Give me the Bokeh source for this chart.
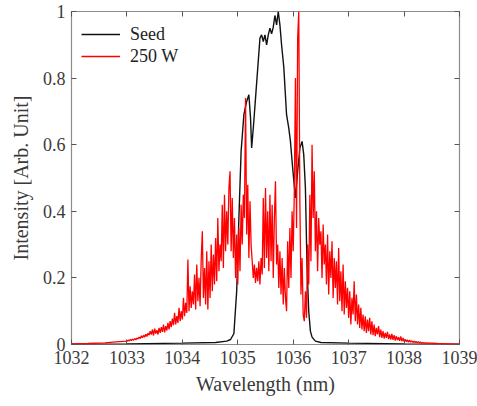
from bokeh.plotting import figure
from bokeh.models import Range1d, LinearAxis, FixedTicker, Legend, LegendItem
from bokeh.embed import file_html
from bokeh.resources import INLINE

# ---- data ----
seed_x = [1032.0, 1033.0, 1034.0, 1034.6, 1034.8, 1034.87, 1034.93, 1034.98, 1035.02, 1035.06,
          1035.11, 1035.16, 1035.20, 1035.23, 1035.25, 1035.28, 1035.32, 1035.36, 1035.40, 1035.43,
          1035.46, 1035.49, 1035.52, 1035.55, 1035.58, 1035.61, 1035.64, 1035.67, 1035.70, 1035.73,
          1035.76, 1035.79, 1035.83, 1035.88, 1035.92, 1035.95, 1035.99, 1036.04, 1036.08, 1036.12,
          1036.16, 1036.19, 1036.22, 1036.25, 1036.28, 1036.31, 1036.34, 1036.40, 1036.50, 1037.0,
          1038.0, 1039.0]
seed_y = [0.001, 0.002, 0.004, 0.006, 0.010, 0.015, 0.033, 0.160, 0.380, 0.580,
          0.690, 0.730, 0.750, 0.680, 0.590, 0.650, 0.740, 0.830, 0.920, 0.930,
          0.910, 0.930, 0.900, 0.930, 0.950, 0.933, 0.953, 0.988, 0.960, 1.000,
          0.960, 0.900, 0.833, 0.690, 0.650, 0.610, 0.530, 0.440, 0.520, 0.590,
          0.610, 0.570, 0.470, 0.230, 0.100, 0.040, 0.022, 0.010, 0.006, 0.004,
          0.002, 0.001]

# 250 W spectrum: head, dense part sampled every 0.02 nm from 1033.00, tail
amp_head_x = [1032.0, 1032.3, 1032.6, 1032.8]
amp_head_y = [0.002, 0.003, 0.005, 0.008]
amp_start = 1033.0
amp_step = 0.02
amp_y = [
    0.010, 0.013, 0.011, 0.015, 0.012, 0.016, 0.013, 0.018, 0.014, 0.019,  # 1033.0
    0.017, 0.022, 0.018, 0.026, 0.020, 0.028, 0.022, 0.031, 0.024, 0.034,  # 1033.2
    0.028, 0.040, 0.030, 0.045, 0.027, 0.048, 0.033, 0.043, 0.030, 0.050,  # 1033.4
    0.035, 0.052, 0.038, 0.060, 0.036, 0.055, 0.042, 0.065, 0.045, 0.070,  # 1033.6
    0.052, 0.078, 0.058, 0.095, 0.060, 0.085, 0.065, 0.110, 0.070, 0.100,  # 1033.8
    0.075, 0.140, 0.085, 0.125, 0.095, 0.255, 0.100, 0.175, 0.110, 0.160,  # 1034.0
    0.120, 0.210, 0.105, 0.240, 0.130, 0.200, 0.115, 0.255, 0.340, 0.140,  # 1034.2
    0.230, 0.120, 0.280, 0.105, 0.250, 0.140, 0.300, 0.160, 0.270, 0.180,  # 1034.4
    0.320, 0.190, 0.380, 0.220, 0.300, 0.250, 0.420, 0.230, 0.450, 0.280,  # 1034.6
    0.400, 0.300, 0.470, 0.520, 0.280, 0.440, 0.260, 0.380, 0.200, 0.330,  # 1034.8
    0.180, 0.350, 0.220, 0.420, 0.300, 0.450, 0.380, 0.740, 0.330, 0.480,  # 1035.0
    0.260, 0.430, 0.300, 0.250, 0.200, 0.240, 0.185, 0.230, 0.190, 0.250,  # 1035.2
    0.180, 0.260, 0.210, 0.440, 0.230, 0.470, 0.260, 0.400, 0.220, 0.450,  # 1035.4
    0.250, 0.420, 0.200, 0.380, 0.490, 0.240, 0.300, 0.170, 0.280, 0.150,  # 1035.6
    0.260, 0.120, 0.230, 0.140, 0.100, 0.310, 0.170, 0.350, 0.200, 0.400,  # 1035.8
    0.280, 0.460, 0.800, 0.350, 0.920, 1.000, 0.430, 0.150, 0.260, 0.090,  # 1036.0
    0.070, 0.160, 0.080, 0.300, 0.180, 0.450, 0.250, 0.600, 0.380, 0.520,  # 1036.2
    0.280, 0.400, 0.220, 0.380, 0.300, 0.340, 0.200, 0.360, 0.240, 0.300,  # 1036.4
    0.180, 0.330, 0.150, 0.280, 0.200, 0.310, 0.140, 0.260, 0.170, 0.250,  # 1036.6
    0.120, 0.290, 0.130, 0.220, 0.100, 0.240, 0.090, 0.190, 0.110, 0.170,  # 1036.8
    0.080, 0.160, 0.060, 0.140, 0.090, 0.190, 0.070, 0.150, 0.060, 0.120,  # 1037.0
    0.050, 0.110, 0.045, 0.090, 0.040, 0.085, 0.035, 0.075, 0.040, 0.080,  # 1037.2
    0.030, 0.070, 0.028, 0.060, 0.025, 0.050, 0.030, 0.055, 0.022, 0.045,  # 1037.4
    0.020, 0.040, 0.018, 0.035, 0.020, 0.038, 0.016, 0.030, 0.015, 0.032,  # 1037.6
    0.014, 0.028, 0.012, 0.025, 0.013, 0.022, 0.011, 0.024, 0.010, 0.020,  # 1037.8
    0.009, 0.016, 0.008, 0.014, 0.007, 0.013, 0.007, 0.011, 0.006, 0.010,  # 1038.0
    0.006, 0.009, 0.005, 0.008, 0.005, 0.007, 0.004, 0.006, 0.004, 0.005,  # 1038.2
]
amp_tail_x = [1038.6, 1038.8, 1039.0]
amp_tail_y = [0.003, 0.002, 0.001]

x_ticks = [1032, 1033, 1034, 1035, 1036, 1037, 1038, 1039]
y_ticks = [0, 0.2, 0.4, 0.6, 0.8, 1.0]
y_tick_labels = {0: "0", 0.2: "0.2", 0.4: "0.4", 0.6: "0.6", 0.8: "0.8", 1: "1"}

amp_x = amp_head_x + [round(amp_start + amp_step * i, 3) for i in range(len(amp_y))] + amp_tail_x
amp_all_y = amp_head_y + amp_y + amp_tail_y

FONT = "'Liberation Serif', 'Times New Roman', serif"
TXT = "#3a3a3a"
FRAME = "#8c8c8c"

p = figure(width=477, height=406, output_backend="svg", toolbar_location=None,
           x_range=Range1d(1032, 1039), y_range=Range1d(0, 1),
           min_border_left=71, min_border_right=18, min_border_top=11, min_border_bottom=62)
p.background_fill_color = "white"
p.border_fill_color = "white"
p.grid.visible = False
p.outline_line_color = FRAME
p.outline_line_width = 1.2

r_seed = p.line(seed_x, seed_y, line_color="#111111", line_width=1.4)
r_amp = p.line(amp_x, amp_all_y, line_color="#ff0000", line_width=1.3)


def style(ax):
    ax.axis_line_color = None
    ax.major_tick_in = 5
    ax.major_tick_out = 0
    ax.minor_tick_line_color = None
    ax.major_tick_line_color = "#555555"
    ax.major_label_text_font = FONT
    ax.major_label_text_color = TXT
    ax.major_label_text_font_size = "18px"
    ax.axis_label_text_font = FONT
    ax.axis_label_text_color = TXT
    ax.axis_label_text_font_size = "20px"
    ax.axis_label_text_font_style = "normal"


p.xaxis.ticker = FixedTicker(ticks=x_ticks)
p.yaxis.ticker = FixedTicker(ticks=y_ticks)
p.yaxis.major_label_overrides = y_tick_labels
p.xaxis.axis_label = "Wavelength (nm)"
p.yaxis.axis_label = "Intensity [Arb. Unit]"
style(p.xaxis[0])
style(p.yaxis[0])
p.xaxis.major_label_standoff = 6
p.yaxis.major_label_standoff = 6
p.xaxis.axis_label_standoff = 6
p.yaxis.axis_label_standoff = 8

ax_top = LinearAxis(ticker=FixedTicker(ticks=x_ticks))
style(ax_top)
ax_top.major_label_overrides = {t: "" for t in x_ticks}
ax_top.major_label_standoff = 0
p.add_layout(ax_top, "above")
ax_right = LinearAxis(ticker=FixedTicker(ticks=y_ticks))
style(ax_right)
ax_right.major_label_overrides = {t: "" for t in y_ticks}
ax_right.major_label_standoff = 0
p.add_layout(ax_right, "right")

legend = Legend(items=[LegendItem(label="Seed", renderers=[r_seed]),
                       LegendItem(label="250 W", renderers=[r_amp])],
                location=(10, 277))
legend.label_text_font = FONT
legend.label_text_font_size = "18px"
legend.label_text_color = "#222222"
legend.border_line_color = None
legend.background_fill_alpha = 0
legend.glyph_width = 39
legend.glyph_height = 22
legend.label_height = 22
legend.label_standoff = 10
legend.spacing = 0
legend.margin = 0
legend.padding = 7
p.add_layout(legend)

open("out.html", "w").write(file_html(p, INLINE))
